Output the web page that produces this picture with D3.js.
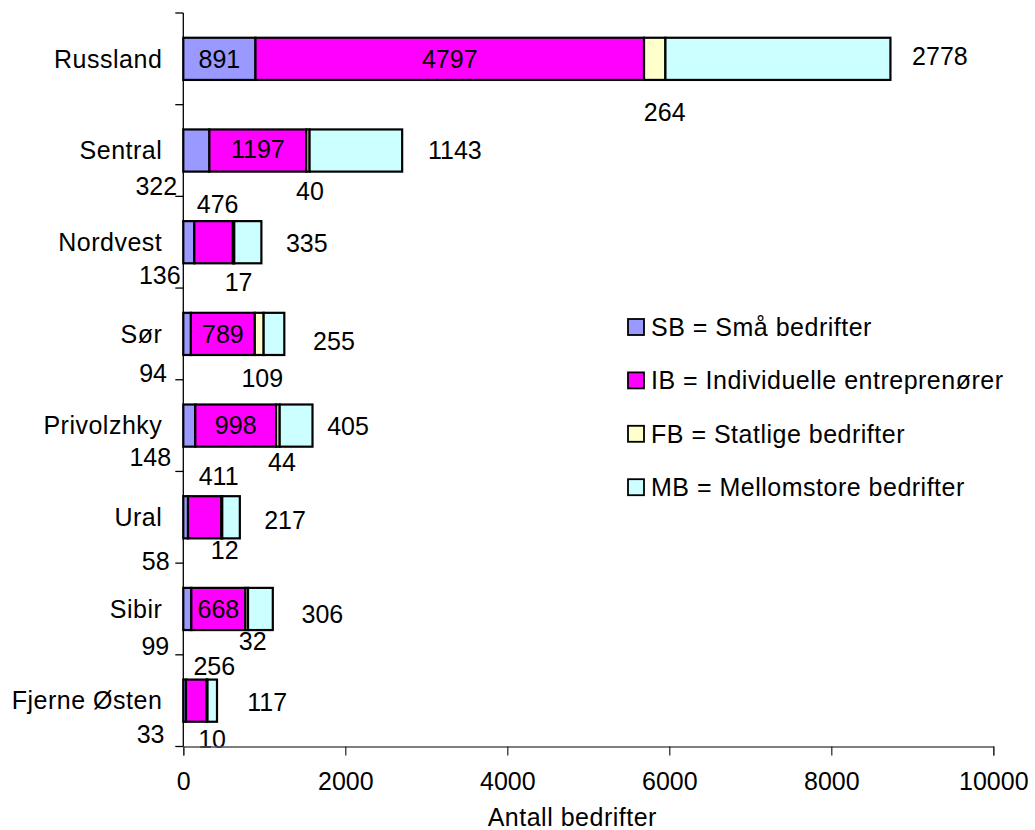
<!DOCTYPE html>
<html>
<head>
<meta charset="utf-8">
<script src="https://cdn.jsdelivr.net/npm/d3@7"></script>
<style>
  html, body { margin: 0; padding: 0; background: #fff; }
  svg text { font-family: "Liberation Sans", Arial, sans-serif; font-size: 25px; fill: #000; }
</style>
</head>
<body>
<svg id="chart" width="1035" height="830"></svg>
<script>
// Regions (top to bottom)
const regions = ["Russland", "Sentral", "Nordvest", "Sør", "Privolzhky", "Ural", "Sibir", "Fjerne Østen"];

// Number of enterprises by type
const smaBedrifter      = [891, 322, 136, 94, 148, 58, 99, 33];        // SB
const individuelle      = [4797, 1197, 476, 789, 998, 411, 668, 256];  // IB
const statlige          = [264, 40, 17, 109, 44, 12, 32, 10];          // FB
const mellomstore       = [2778, 1143, 335, 255, 405, 217, 306, 117];  // MB

const seriesKeys   = ["SB", "IB", "FB", "MB"];
const seriesLabels = ["SB = Små bedrifter", "IB = Individuelle entreprenører", "FB = Statlige bedrifter", "MB = Mellomstore bedrifter"];
const xTicks = [0, 2000, 4000, 6000, 8000, 10000];
const xTitle = "Antall bedrifter";

// Styling
const colors = { SB: "#9999FF", IB: "#FF00FF", FB: "#FFFFCC", MB: "#CCFFFF" };

// Value-label nudges (px) from segment centre, per region, in series order
const labelNudge = {
  "Russland":     [[0, 0], [0, 0], [10, 53], [162, -3]],
  "Sentral":      [[-40, 36], [0, -1], [2, 41], [99, 0]],
  "Nordvest":     [[-29, 33], [4, -38], [5, 40], [59, 1]],
  "Sør":          [[-34, 39], [0, 0], [3, 44], [60, 7]],
  "Privolzhky":   [[-39, 32], [0, 0], [4, 37], [52, 1]],
  "Ural":         [[-30, 44], [14, -41], [3, 33], [54, 3]],
  "Sibir":        [[-32, 37], [0, 0], [6, 32], [62, 5]],
  "Fjerne Østen": [[-34, 34], [18, -34], [5, 39], [55, 2]]
};

const table = regions.map((r, i) => ({
  region: r,
  SB: smaBedrifter[i], IB: individuelle[i], FB: statlige[i], MB: mellomstore[i]
}));

const svg = d3.select("#chart");
const plot = { left: 183.3, right: 993.3, top: 13, bottom: 746.5 };

const x = d3.scaleLinear().domain([0, 10000]).range([plot.left, plot.right]);
const y = d3.scaleBand().domain(regions).range([plot.top, plot.bottom]).padding(0);
const barH = y.bandwidth() * 0.46;

const stacked = d3.stack().keys(seriesKeys)(table);

// Bars
const layers = svg.append("g").selectAll("g")
  .data(stacked).join("g")
  .attr("fill", d => colors[d.key]);

layers.selectAll("rect")
  .data(d => d.map(s => Object.assign(s, { key: d.key })))
  .join("rect")
  .attr("x", d => x(d[0]))
  .attr("width", d => x(d[1]) - x(d[0]))
  .attr("y", d => y(d.data.region) + (y.bandwidth() - barH) / 2)
  .attr("height", barH)
  .attr("stroke", "#000")
  .attr("stroke-width", 2.2);

// Value labels
const labelG = svg.append("g");
stacked.forEach((layer, si) => {
  layer.forEach(d => {
    const r = d.data.region;
    const nud = labelNudge[r][si];
    const cx = (x(d[0]) + x(d[1])) / 2 + nud[0];
    const cy = y(r) + y.bandwidth() / 2 + nud[1];
    labelG.append("text")
      .attr("x", cx).attr("y", cy)
      .attr("dy", "0.35em")
      .attr("text-anchor", "middle")
      .text(d.data[layer.key]);
  });
});

// Y axis: line, ticks at band boundaries, category labels
const yAxisG = svg.append("g");
yAxisG.append("line")
  .attr("x1", plot.left).attr("x2", plot.left)
  .attr("y1", plot.top).attr("y2", plot.bottom)
  .attr("stroke", "#000").attr("stroke-width", 1.3);
const boundaries = regions.map(r => y(r)).concat([plot.bottom]);
yAxisG.selectAll("line.tick").data(boundaries).join("line")
  .attr("class", "tick")
  .attr("x1", plot.left - 8).attr("x2", plot.left)
  .attr("y1", d => d).attr("y2", d => d)
  .attr("stroke", "#000").attr("stroke-width", 1.3);
yAxisG.selectAll("text").data(regions).join("text")
  .attr("x", plot.left - 21)
  .attr("y", d => y(d) + y.bandwidth() / 2)
  .attr("dy", "0.35em")
  .attr("text-anchor", "end")
  .style("letter-spacing", "0.5px")
  .text(d => d);

// X axis
const xAxis = d3.axisBottom(x).tickValues(xTicks).tickSize(9).tickPadding(17).tickFormat(d3.format("d"));
const xg = svg.append("g").attr("transform", `translate(0,${plot.bottom})`).call(xAxis);
xg.select(".domain").attr("stroke", "#555").attr("stroke-width", 1.3);
xg.selectAll(".tick line").attr("stroke", "#222").attr("stroke-width", 1.2);
xg.selectAll(".tick text")
  .style("font-size", "25px")
  .style("font-family", "'Liberation Sans', Arial, sans-serif")
  .attr("fill", "#000");

svg.append("text")
  .attr("x", (plot.left + plot.right) / 2 - 16)
  .attr("y", 817)
  .attr("dy", "0.35em")
  .attr("text-anchor", "middle")
  .style("letter-spacing", "0.5px")
  .text(xTitle);

// Legend
const legend = svg.append("g").attr("transform", "translate(628,327)");
const items = legend.selectAll("g").data(seriesKeys).join("g")
  .attr("transform", (d, i) => `translate(0,${i * 53.4})`);
items.append("rect")
  .attr("x", 0).attr("y", -8).attr("width", 16).attr("height", 16)
  .attr("fill", d => colors[d]).attr("stroke", "#000").attr("stroke-width", 1.8);
items.append("text")
  .attr("x", 23).attr("y", 0).attr("dy", "0.35em")
  .style("letter-spacing", "0.5px")
  .text((d, i) => seriesLabels[i]);
</script>
</body>
</html>
